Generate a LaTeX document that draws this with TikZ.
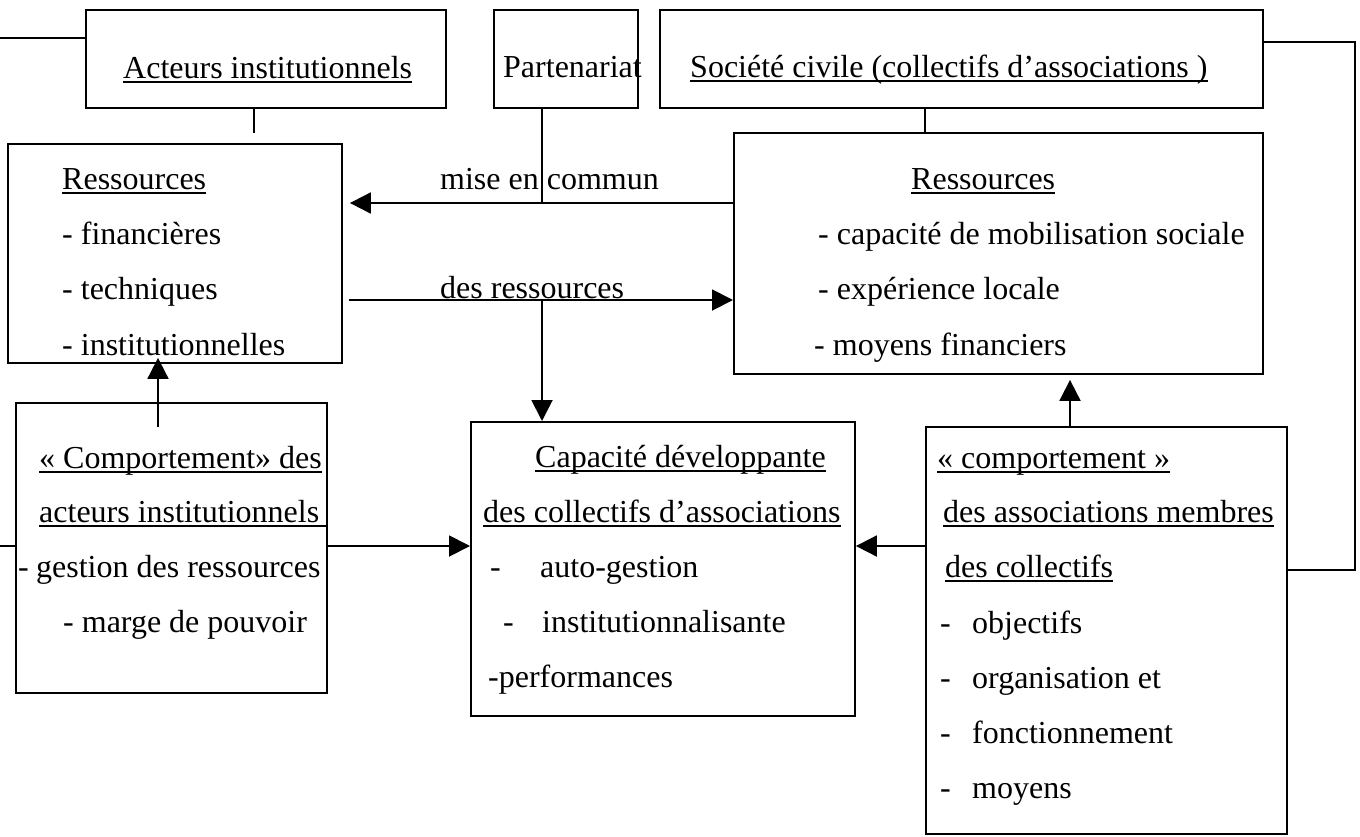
\documentclass[tikz,border=0pt]{standalone}
\usepackage{fontspec}
\setmainfont{Liberation Serif}
\usetikzlibrary{arrows.meta}
\begin{document}
\begin{tikzpicture}[x=1pt,y=-1pt,
  box/.style={draw, line width=1.9pt, inner sep=0pt, anchor=north west},
  txt/.style={inner sep=0pt, anchor=base west, font=\fontsize{32}{38}\selectfont},
  link/.style={line width=1.9pt},
  arr/.style={line width=1.9pt, -{Triangle[length=21pt,width=21pt]}},
  uline/.style={line width=1.4pt}]
\useasboundingbox (0,0) rectangle (1360,836);

% boxes
\node[box, minimum width=360pt, minimum height=98pt] (acteurs) at (85,9) {};
\node[box, minimum width=144pt, minimum height=98pt] (parten) at (493,9) {};
\node[box, minimum width=603pt, minimum height=98pt] (societe) at (659,9) {};
\node[box, minimum width=334pt, minimum height=219pt] (resL) at (7,143) {};
\node[box, minimum width=529pt, minimum height=241pt] (resR) at (733,132) {};
\node[box, minimum width=311pt, minimum height=290pt] (compL) at (15,402) {};
\node[box, minimum width=384pt, minimum height=294pt] (capa) at (470,421) {};
\node[box, minimum width=361pt, minimum height=407pt] (compR) at (925,426) {};

% texts
\node[txt] (tA) at (123,78) {Acteurs institutionnels};
\node[txt] (tP) at (503,77) {Partenariat};
\node[txt] (tS) at (690,77) {Société civile (collectifs d’associations )};

\node[txt] (rL0) at (62,189) {Ressources};
\node[txt] (rL1) at (62,244) {- financières};
\node[txt] (rL2) at (62,299) {- techniques};
\node[txt] (rL3) at (62,355) {- institutionnelles};

\node[txt] (mc) at (440,189) {mise en commun};
\node[txt] (dr) at (440,298) {des ressources};

\node[txt] (rR0) at (911,189) {Ressources};
\node[txt] (rR1) at (818,244) {- capacité de mobilisation sociale};
\node[txt] (rR2) at (818,299) {- expérience locale};
\node[txt] (rR3) at (814,355) {- moyens financiers};

\node[txt] (cL0) at (39,468) {« Comportement» des};
\node[txt] (cL1) at (39,522) {acteurs institutionnels};
\node[txt] (cL2) at (18,577) {\makebox[18pt][l]{-}gestion des ressources};
\node[txt] (cL3) at (63,632) {- marge de pouvoir};

\node[txt] (k0) at (535,467) {Capacité développante};
\node[txt] (k1) at (483,522) {des collectifs d’associations};
\node[txt] (k2) at (490,577) {\makebox[50pt][l]{-}auto-gestion};
\node[txt] (k3) at (503,632) {\makebox[39pt][l]{-}institutionnalisante};
\node[txt] (k4) at (488,687) {-performances};

\node[txt] (cR0) at (937,468) {« comportement »};
\node[txt] (cR1) at (943,522) {des associations membres};
\node[txt] (cR2) at (945,577) {des collectifs};
\node[txt] (cR3) at (940,633) {\makebox[32pt][l]{-}objectifs};
\node[txt] (cR4) at (940,688) {\makebox[32pt][l]{-}organisation et};
\node[txt] (cR5) at (940,743) {\makebox[32pt][l]{-}fonctionnement};
\node[txt] (cR6) at (940,798) {\makebox[32pt][l]{-}moyens};

% underlines
\foreach \n in {tA,tS,rL0,rR0,cL0,k0,k1,cR0,cR1,cR2}
  \draw[uline] ([yshift=-4pt]\n.base west) -- ([yshift=-4pt]\n.base east);
\draw[uline] ([yshift=-4pt]cL1.base west) -- ([yshift=-4pt]cL1.base west -| compL.east);

% connector coordinates
\coordinate (lt) at (0,38);
\coordinate (sa) at (254,133);
\coordinate (pj) at (542,203);
\coordinate (dj) at (542,300);
\coordinate (ss) at (925,0);
\coordinate (rl) at (1355,42);
\coordinate (rb) at (1355,570);
\coordinate (ux) at (1070,0);
\coordinate (lb) at (158,427);
\coordinate (lf) at (0,546);

% connectors
\draw[link] (lt) -- (lt -| acteurs.west);
\draw[link] (sa |- acteurs.south) -- (sa);
\draw[link] (pj |- parten.south) -- (pj);
\draw[arr] (resR.west |- pj) -- ([xshift=7pt]resL.east |- pj);
\draw[link] ([xshift=6pt]resL.east |- dj) -- (dj);
\draw[arr] (dj) -- (resR.west |- dj);
\draw[arr] (dj) -- (dj |- capa.north);
\draw[link] (ss |- societe.south) -- (ss |- resR.north);
\draw[link] (societe.east |- rl) -- (rl) -- (rb) -- (compR.east |- rb);
\draw[arr] (ux |- compR.north) -- ([yshift=-5pt]ux |- resR.south);
\draw[arr] (lb) -- ([yshift=6pt]lb |- resL.south);
\draw[link] (lf) -- (lf -| compL.west);
\draw[arr] (compL.east |- lf) -- (capa.west |- lf);
\draw[arr] (compR.west |- lf) -- (capa.east |- lf);
\end{tikzpicture}
\end{document}
